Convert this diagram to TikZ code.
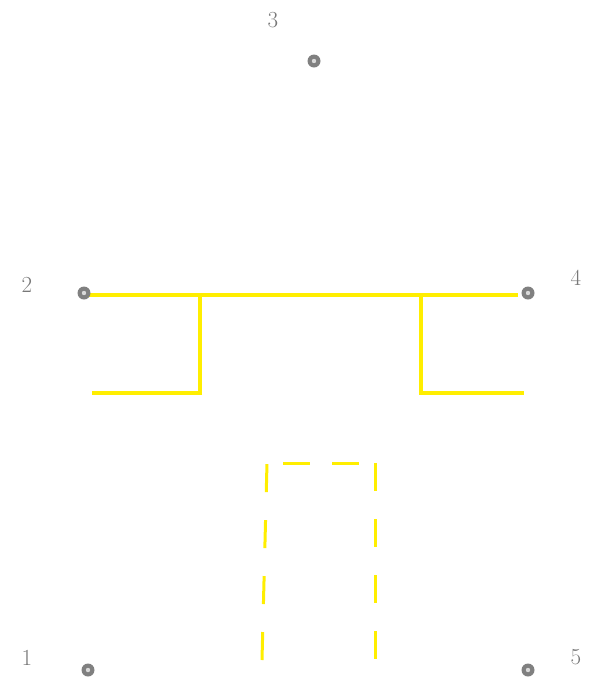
\documentclass[tikz,border=0pt]{standalone}
\usepackage{tikz}
\usetikzlibrary{positioning}
\definecolor{trackyellow}{RGB}{255,238,0}
\definecolor{stopgray}{RGB}{128,128,128}
\definecolor{tagGray}{RGB}{120,120,120}

\begin{document}
\begin{tikzpicture}[
    x=1pt, y=-1pt,
    station/.style={circle, fill=stopgray, minimum size=13pt, inner sep=0pt,
      path picture={\fill[stopgray!30] (path picture bounding box.center) circle (2.2pt);}},
    tag/.style={text=tagGray, font=\fontsize{23}{23}\selectfont},
    track/.style={draw=trackyellow, line width=4pt},
    planned/.style={draw=trackyellow, line width=3pt, dash pattern=on 28pt off 28pt},
]
\useasboundingbox (0,0) rectangle (591,681);

% Track corners
\coordinate (mainW) at (88,295);
\coordinate (mainE) at (518,295);
\coordinate (forkL) at (200,295);
\coordinate (forkR) at (421,295);
\coordinate (spurL) at (92,393);
\coordinate (spurR) at (524,393);

% Main line and the two spurs
\draw[track] (mainW) -- (mainE);
\draw[track] (forkL) |- (spurL);
\draw[track] (forkR) |- (spurR);

% Planned loop (dashed)
\coordinate (loopSW) at (262,660);
\coordinate (loopNW) at (267,463);
\coordinate (loopNE) at (375,463);
\coordinate (loopSE) at (375,661);
\draw[planned] (loopSW) -- (loopNW);
\draw[planned, dash pattern=on 27pt off 22pt, dash phase=33pt] (loopNW) -- (loopNE);
\draw[planned] (loopNE) -- (loopSE);

% Stations
\node[station] (s1) at (88,670) {};
\node[station] (s2) at (84,293) {};
\node[station] (s3) at (314,61) {};
\node[station] (s4) at (528,293) {};
\node[station] (s5) at (528,670) {};

% Station numbers
\node[tag] (l1) at (27,658) {1};
\node[tag] (l2) at (27,285) {2};
\node[tag] (l3) at (273,20) {3};
\node[tag] (l4) at (576,278) {4};
\node[tag] (l5) at (576,657) {5};

\end{tikzpicture}
\end{document}
